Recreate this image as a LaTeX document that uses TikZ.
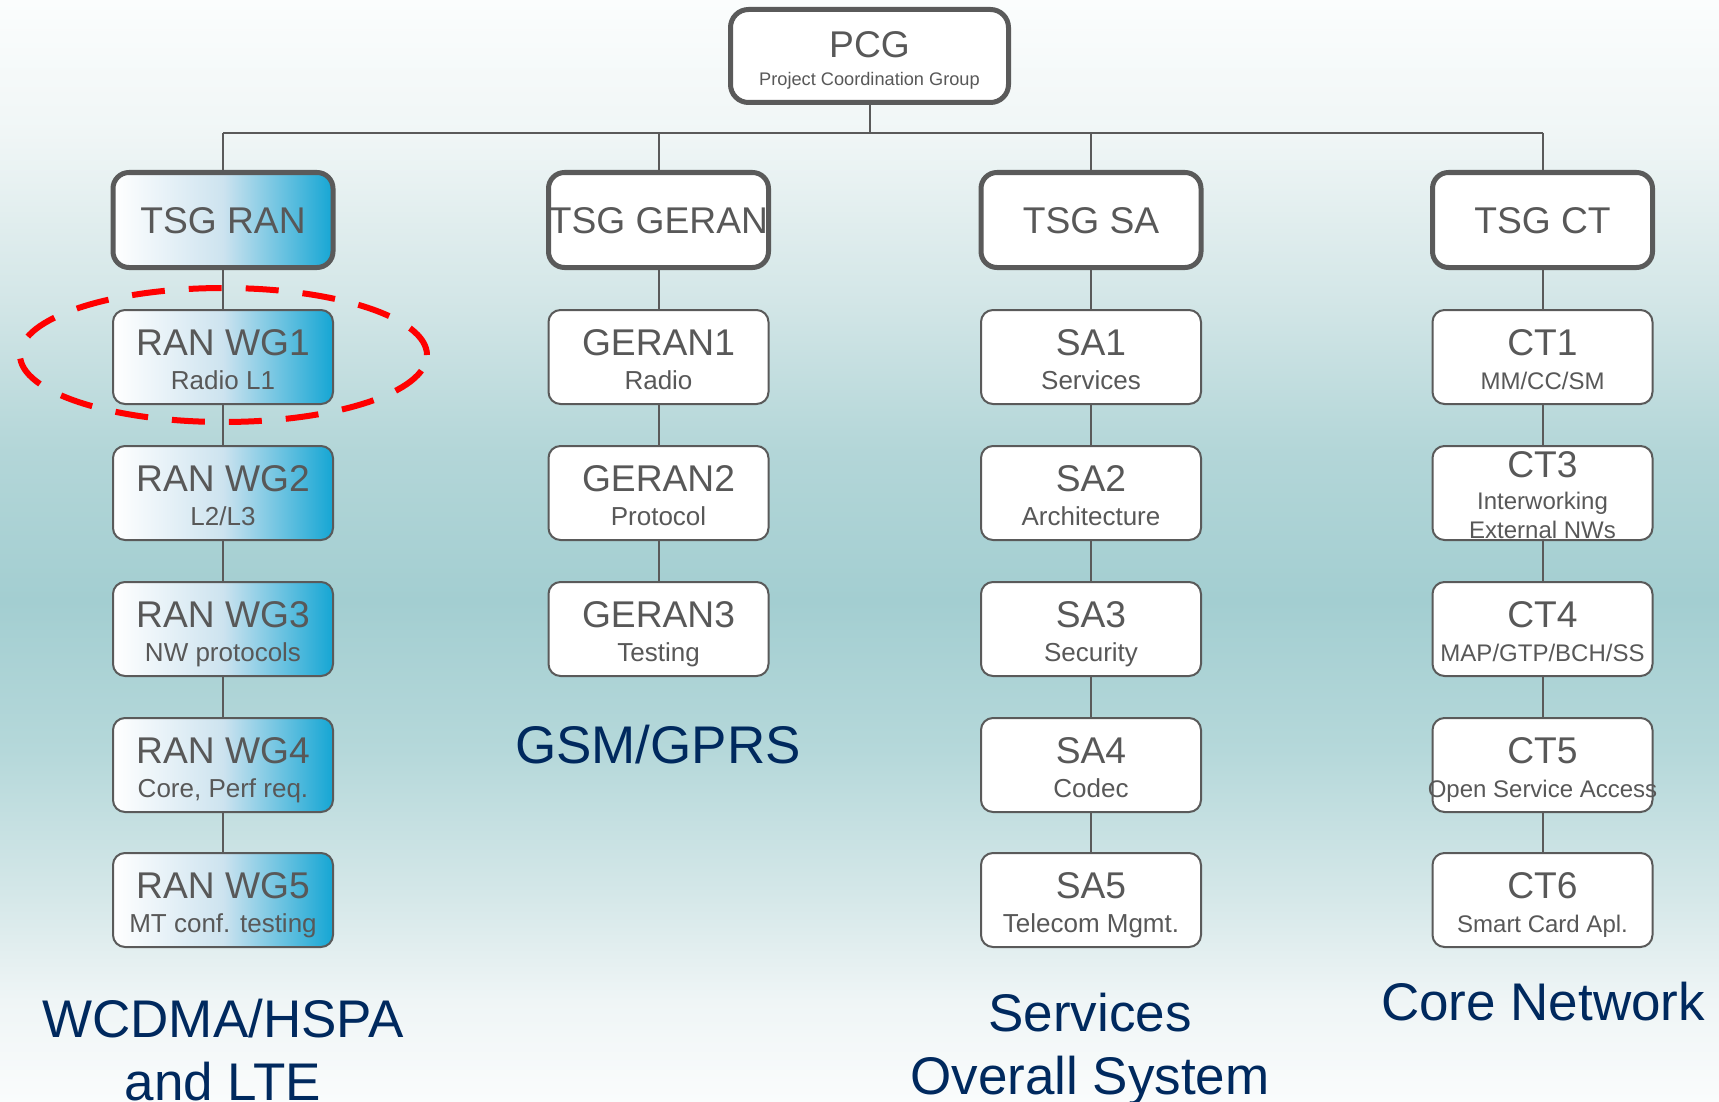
\documentclass[tikz,border=0pt]{standalone}
\usepackage{fontspec}
\setmainfont{Liberation Sans}
\usetikzlibrary{shapes.geometric}
\pgfdeclarelayer{back}
\pgfdeclarelayer{mid}
\pgfsetlayers{back,mid,main}
\definecolor{boxgrey}{HTML}{5A5A5A}
\definecolor{txtgrey}{HTML}{585858}
\definecolor{navy}{HTML}{00295E}
\definecolor{ranblue}{HTML}{15A6D4}
\definecolor{ranmid}{HTML}{CDE3EF}
\definecolor{ringred}{HTML}{FF0000}
\definecolor{bga}{HTML}{FBFDFD}
\definecolor{bgb}{HTML}{F0F6F6}
\definecolor{bgc}{HTML}{D3E6E7}
\definecolor{bgd}{HTML}{B3D6D8}
\definecolor{bge}{HTML}{A3CED1}
\definecolor{bgf}{HTML}{B5D8DA}
\definecolor{bgg}{HTML}{D6E8E9}
\definecolor{bgh}{HTML}{EFF5F6}
\definecolor{bgi}{HTML}{FAFCFC}
\newcommand\mywg[7]{%
  \node[wgbox,#6] (#1) at (#2,#3+48) {};
  \node[ttl,anchor=base] (#1-t) at (#2,#3+46) {#4};
  \node[#7,anchor=base] (#1-s) at (#2,#3+80) {#5};
}
\begin{document}
\begin{tikzpicture}[x=0.5pt,y=-0.5pt,
  conn/.style={draw=boxgrey,line width=1pt},
  tsgbox/.style={rectangle,rounded corners=8pt,draw=boxgrey,line width=2.5pt,fill=white,minimum width=110pt,minimum height=47.5pt,inner sep=0pt},
  pcgbox/.style={rectangle,rounded corners=9pt,draw=boxgrey,line width=2.5pt,fill=white,minimum width=139pt,minimum height=46.5pt,inner sep=0pt},
  wgbox/.style={rectangle,rounded corners=6pt,draw=boxgrey,line width=1pt,fill=white,minimum width=110pt,minimum height=47pt,inner sep=0pt},
  ranfill/.style={left color=white,right color=ranblue,middle color=ranmid},
  plain/.style={},
  ttl/.style={text=txtgrey,font=\fontsize{18.6}{20}\selectfont,inner sep=0pt},
  tsgttl/.style={text=txtgrey,font=\fontsize{18.6}{20}\selectfont,inner sep=0pt},
  sub/.style={text=txtgrey,font=\fontsize{13}{15}\selectfont,inner sep=0pt},
  ctsub/.style={text=txtgrey,font=\fontsize{12}{14}\selectfont,inner sep=0pt},
  big/.style={text=navy,font=\fontsize{26.5}{30}\selectfont,inner sep=0pt},
  redring/.style={ellipse,draw=ringred,line width=3pt,dash pattern=on 16.5pt off 12pt,minimum width=203.5pt,minimum height=67pt,inner sep=0pt}
]
\useasboundingbox (0,0) rectangle (1719,1102);
\begin{pgfonlayer}{back}
  \shade[top color=bga,bottom color=bgb] (0,0) rectangle (1719,134);
  \shade[top color=bgb,bottom color=bgc] (0,133) rectangle (1719,301);
  \shade[top color=bgc,bottom color=bgd] (0,300) rectangle (1719,451);
  \shade[top color=bgd,bottom color=bge] (0,450) rectangle (1719,601);
  \shade[top color=bge,bottom color=bgf] (0,600) rectangle (1719,751);
  \shade[top color=bgf,bottom color=bgg] (0,750) rectangle (1719,901);
  \shade[top color=bgg,bottom color=bgh] (0,900) rectangle (1719,1001);
  \shade[top color=bgh,bottom color=bgi] (0,1000) rectangle (1719,1102);
\end{pgfonlayer}

% PCG
\node[pcgbox] (pcg) at (869.5,56) {};
\node[ttl,font=\fontsize{18.6}{20}\selectfont,anchor=base] (pcg-t) at (869.5,57.5) {PCG};
\node[ttl,font=\fontsize{9.1}{11}\selectfont,anchor=base] (pcg-s) at (869.5,86) {Project Coordination Group};

% TSGs
\node[tsgbox,ranfill] (ran) at (223,220) {};
\node[tsgttl,anchor=base] (ran-t) at (223,233.5) {TSG RAN};
\node[tsgbox] (geran) at (658.5,220) {};
\node[tsgttl,anchor=base] (geran-t) at (658.5,233.5) {TSG GERAN};
\node[tsgbox] (sa) at (1091,220) {};
\node[tsgttl,anchor=base] (sa-t) at (1091,233.5) {TSG SA};
\node[tsgbox] (ct) at (1542.5,220) {};
\node[tsgttl,anchor=base] (ct-t) at (1542.5,233.5) {TSG CT};

% RAN column
\mywg{r1}{223}{309}{RAN WG1}{Radio L1}{ranfill}{sub}
\mywg{r2}{223}{445}{RAN WG2}{L2/L3}{ranfill}{sub}
\mywg{r3}{223}{581}{RAN WG3}{NW protocols}{ranfill}{sub}
\mywg{r4}{223}{717}{RAN WG4}{Core, Perf req.}{ranfill}{sub}
\mywg{r5}{223}{852}{RAN WG5}{MT conf. testing}{ranfill}{sub}

% GERAN column
\mywg{g1}{658.5}{309}{GERAN1}{Radio}{plain}{sub}
\mywg{g2}{658.5}{445}{GERAN2}{Protocol}{plain}{sub}
\mywg{g3}{658.5}{581}{GERAN3}{Testing}{plain}{sub}

% SA column
\mywg{s1}{1091}{309}{SA1}{Services}{plain}{sub}
\mywg{s2}{1091}{445}{SA2}{Architecture}{plain}{sub}
\mywg{s3}{1091}{581}{SA3}{Security}{plain}{sub}
\mywg{s4}{1091}{717}{SA4}{Codec}{plain}{sub}
\mywg{s5}{1091}{852}{SA5}{Telecom Mgmt.}{plain}{sub}

% CT column
\mywg{c1}{1542.5}{309}{CT1}{MM/CC/SM}{plain}{ctsub}
\node[wgbox] (c3) at (1542.5,445+48) {};
\node[ttl,anchor=base] (c3-t) at (1542.5,445+32) {CT3};
\node[ctsub,anchor=base] (c3-s1) at (1542.5,445+64) {Interworking};
\node[ctsub,anchor=base] (c3-s2) at (1542.5,445+93) {External NWs};
\mywg{c4}{1542.5}{581}{CT4}{MAP/GTP/BCH/SS}{plain}{ctsub}
\mywg{c5}{1542.5}{717}{CT5}{Open Service Access}{plain}{ctsub}
\mywg{c6}{1542.5}{852}{CT6}{Smart Card Apl.}{plain}{ctsub}

% connectors
\begin{pgfonlayer}{mid}
  \coordinate (bus) at (869.5,133);
  \draw[conn] (pcg.south) -- (pcg.south |- bus);
  \draw[conn] (ran.north |- bus) -- (ct.north |- bus);
  \foreach \t in {ran,geran,sa,ct} \draw[conn] (\t.north |- bus) -- (\t.north);
  \foreach \a/\b in {ran/r1,r1/r2,r2/r3,r3/r4,r4/r5,geran/g1,g1/g2,g2/g3,sa/s1,s1/s2,s2/s3,s3/s4,s4/s5,ct/c1,c1/c3,c3/c4,c4/c5,c5/c6}
    \draw[conn] (\a.south) -- (\b.north);
\end{pgfonlayer}

% bottom labels
\node[big,anchor=base] (l-ran1) at (223,1037) {WCDMA/HSPA};
\node[big,anchor=base] (l-ran2) at (223,1100) {and LTE};
\node[big,anchor=base] (l-geran) at (658,763) {GSM/GPRS};
\node[big,anchor=base] (l-sa1) at (1090,1031) {Services};
\node[big,anchor=base] (l-sa2) at (1090,1094) {Overall System};
\node[big,anchor=base] (l-ct) at (1543,1020) {Core Network};

% highlight ring
\node[redring] (ring) at (223.5,355) {};
\end{tikzpicture}
\end{document}
